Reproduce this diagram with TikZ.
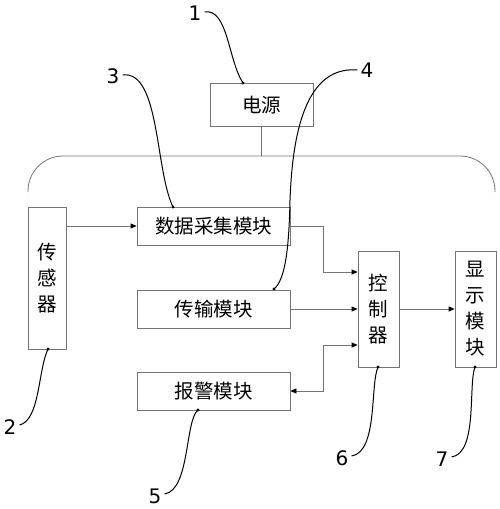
\documentclass[tikz,border=0pt]{standalone}
\usepackage{fontspec}
\newfontfamily\cjk{Noto Sans CJK SC}
\newfontfamily\numfont{DejaVu Sans}
\usetikzlibrary{arrows.meta}
\begin{document}
\begin{tikzpicture}[x=1pt,y=-1pt,
  box/.style={draw=black!55, line width=0.8pt, inner sep=0pt, font=\cjk\fontsize{19.5}{26}\selectfont, align=center},
  wire/.style={draw=black!55, line width=0.8pt},
  tip/.tip={Triangle[length=6pt,width=5pt,color=black]},
  arr/.style={wire, -tip},
  lead/.style={draw=black, line width=1pt},
  num/.style={font=\numfont\fontsize{20}{20}\selectfont, inner sep=0pt},
  dot/.style={fill=black, circle, inner sep=0pt, minimum size=3.2pt}]
\useasboundingbox (0,0) rectangle (500,509);
% boxes
\node[box, minimum width=103pt, minimum height=43pt] (pwr) at (261.5,105) {电源};
\node[box, minimum width=38pt, minimum height=142pt] (sen) at (47,278) {传\\感\\器};
\node[box, minimum width=153pt, minimum height=38pt] (daq) at (213.5,226) {数据采集模块};
\node[box, minimum width=153pt, minimum height=38pt] (tx) at (213.5,309) {传输模块};
\node[box, minimum width=153pt, minimum height=38pt] (alm) at (213.5,391) {报警模块};
\node[box, minimum width=41pt, minimum height=116pt] (ctl) at (378.5,309) {控\\制\\器};
\node[box, minimum width=41pt, minimum height=116pt] (dsp) at (475.5,309) {显\\示\\模\\块};
% power bus
\coordinate (bus) at (pwr.south |- 0,156);
\draw[wire] (pwr.south) -- (bus);
\draw[wire, rounded corners=35pt] (28,192) -- (28,156) -- (495,156) -- (495,192);
% connectors
\draw[arr] (daq.west -| sen.east) -- (daq.west);
\coordinate (j1) at (323,226);
\coordinate (j2) at (323,272);
\draw[arr] (daq.east) -- (j1) -- (j2) -- (j2 -| ctl.west);
\draw[arr] (tx.east) -- (tx.east -| ctl.west);
\coordinate (j3) at (323,345);
\coordinate (j4) at (323,391);
\draw[wire, tip-tip] (alm.east) -- (j4) -- (j3) -- (j3 -| ctl.west);
\draw[arr] (ctl.east) -- (dsp.west);
% leader labels
\node[num] (n1) at (195,13) {1};
\node[num] (n3) at (113,76) {3};
\node[num] (n4) at (367,70) {4};
\node[num] (n2) at (10,427) {2};
\node[num] (n5) at (155,496) {5};
\node[num] (n6) at (342,458) {6};
\node[num] (n7) at (442,459) {7};
\node[dot] (d1) at (243,83) {};
\node[dot] (d3) at (173,207) {};
\node[dot] (d4) at (274,289) {};
\node[dot] (d2) at (48,349) {};
\node[dot] (d5) at (198,410) {};
\node[dot] (d6) at (378,367) {};
\node[dot] (d7) at (475,367) {};
\draw[lead] (n1.east) ++(3,-1) .. controls (228,8) and (228,60) .. (d1.center);
\draw[lead] (n3.east) ++(3,-1) .. controls (160,70) and (155,170) .. (d3.center);
\draw[lead] (n4.west) ++(-3,0) .. controls (300,65) and (292,150) .. (290,200) .. controls (289,250) and (285,280) .. (d4.center);
\draw[lead] (n2.east) ++(3,-2) .. controls (40,420) and (38,370) .. (d2.center);
\draw[lead] (n5.east) ++(3,-2) .. controls (190,490) and (185,420) .. (d5.center);
\draw[lead] (n6.east) ++(3,-2) .. controls (378,452) and (370,385) .. (d6.center);
\draw[lead] (n7.east) ++(3,-2) .. controls (478,453) and (468,385) .. (d7.center);
\end{tikzpicture}
\end{document}
